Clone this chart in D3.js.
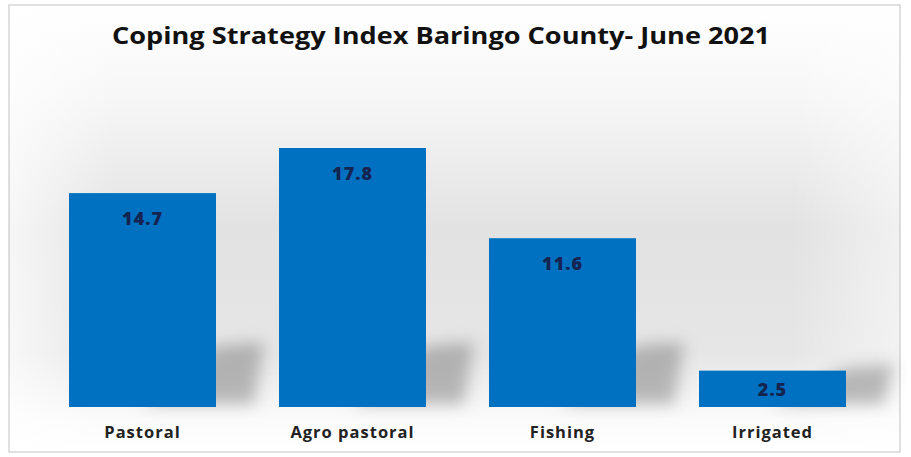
<!DOCTYPE html>
<html><head><meta charset="utf-8">
<script src="https://cdn.jsdelivr.net/npm/d3@7"></script>
<style>html,body{margin:0;padding:0;background:#fff;}svg{display:block;}</style>
</head><body>
<script>
const categories = ["Pastoral", "Agro pastoral", "Fishing", "Irrigated"];
const values = [14.7, 17.8, 11.6, 2.5];
const valueLabels = ["14.7", "17.8", "11.6", "2.5"];
const title = "Coping Strategy Index Baringo County- June 2021";

const W = 911, H = 457;
const svg = d3.select("body").append("svg").attr("width", W).attr("height", H);
const defs = svg.append("defs");

const bg = defs.append("linearGradient").attr("id","bg").attr("x1",0).attr("y1",0).attr("x2",0).attr("y2",1);
bg.append("stop").attr("offset","0").attr("stop-color","#ffffff");
bg.append("stop").attr("offset","0.2").attr("stop-color","#f7f7f7");
bg.append("stop").attr("offset","0.5").attr("stop-color","#e2e2e2");
bg.append("stop").attr("offset","0.78").attr("stop-color","#e6e6e6");
bg.append("stop").attr("offset","0.93").attr("stop-color","#fbfbfb");
bg.append("stop").attr("offset","1").attr("stop-color","#ffffff");

const hz = defs.append("linearGradient").attr("id","hz").attr("x1",0).attr("y1",0).attr("x2",1).attr("y2",0);
hz.append("stop").attr("offset","0").attr("stop-color","#ffffff").attr("stop-opacity",0.7);
hz.append("stop").attr("offset","0.12").attr("stop-color","#ffffff").attr("stop-opacity",0);
hz.append("stop").attr("offset","0.88").attr("stop-color","#ffffff").attr("stop-opacity",0);
hz.append("stop").attr("offset","1").attr("stop-color","#ffffff").attr("stop-opacity",0.5);

defs.append("filter").attr("id","blur").attr("x","-50%").attr("y","-50%").attr("width","200%").attr("height","200%")
  .append("feGaussianBlur").attr("stdDeviation",8);

svg.append("rect").attr("x",9).attr("y",5).attr("width",891).attr("height",447)
  .attr("fill","url(#bg)").attr("stroke","#d6d6d6").attr("stroke-width",1.5);
svg.append("rect").attr("x",10).attr("y",6).attr("width",889).attr("height",445).attr("fill","url(#hz)");

const x = d3.scaleBand().domain(categories).range([6, 909]).paddingInner(0.3).paddingOuter(0.3);
const y = d3.scaleLinear().domain([0, 20]).range([407, 116]);

const data = categories.map((c,i)=>({c, v: values[i], l: valueLabels[i]}));

// shadows
svg.append("g").selectAll("path").data(data).join("path")
  .attr("d", d => {
    const x0 = x(d.c) + x.bandwidth()*0.5, x1 = x(d.c) + x.bandwidth();
    const yb = y(0) - 3, h = Math.min(y(0)-y(d.v), 58);
    return `M${x0},${yb} L${x1},${yb-h} L${x1+48},${yb-h-4} L${x1+38},${yb} Z`;
  })
  .attr("fill","#7a7a7a").attr("opacity",0.5).attr("filter","url(#blur)");

svg.append("g").selectAll("rect").data(data).join("rect")
  .attr("x", d => x(d.c)).attr("y", d => y(d.v))
  .attr("width", x.bandwidth()).attr("height", d => y(0) - y(d.v))
  .attr("fill", "#0070c0");

svg.append("g").selectAll("text").data(data).join("text")
  .attr("x", d => x(d.c) + x.bandwidth()/2)
  .attr("y", d => y(d.v) + Math.min(32, (y(0)-y(d.v))/2 + 7))
  .attr("text-anchor","middle").attr("font-family","'Open Sans', sans-serif")
  .attr("font-weight","800").attr("font-size",18).attr("letter-spacing",1)
  .attr("fill","#14234f")
  .text(d => d.l);

const xAxis = svg.append("g").attr("transform",`translate(0,${y(0)})`)
  .call(d3.axisBottom(x).tickSize(0).tickPadding(19));
xAxis.select(".domain").remove();
xAxis.selectAll("text").attr("font-family","'Open Sans', sans-serif").attr("font-weight","bold")
  .attr("font-size",16.5).attr("letter-spacing",1).attr("fill","#222");

svg.append("text").attr("x", 441).attr("y", 44).attr("text-anchor","middle")
  .attr("font-family","'Open Sans', sans-serif").attr("font-weight","bold").attr("font-size",24)
  .attr("fill","#111").attr("textLength",658).attr("lengthAdjust","spacingAndGlyphs")
  .text(title);
</script>
</body></html>
